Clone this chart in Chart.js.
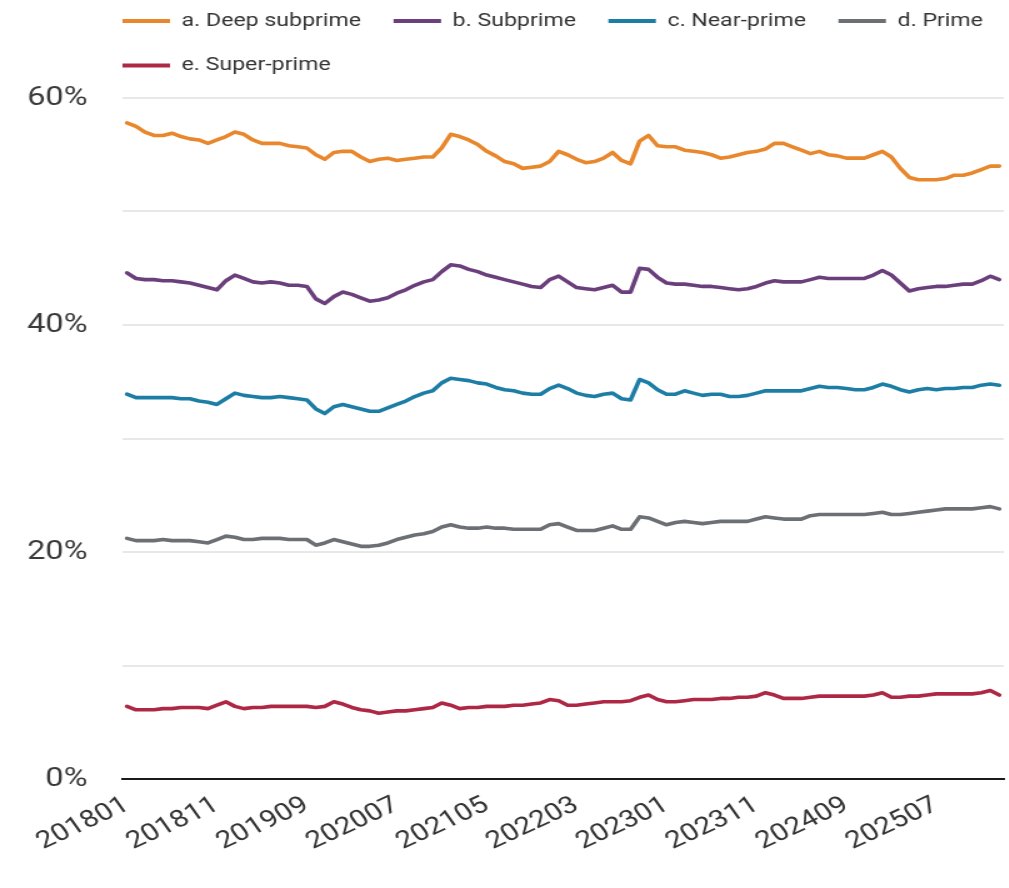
<!DOCTYPE html>
<html>
<head>
<meta charset="utf-8">
<script src="https://cdn.jsdelivr.net/npm/chart.js@4.4.1/dist/chart.umd.min.js"></script>
<style>
  html, body { margin: 0; padding: 0; background: #fff; overflow: hidden; }
  /* chart is laid out narrower and widened to the page width */
  #wrap { width: 807px; height: 888px; transform: scaleX(1.25); transform-origin: 0 0; }
</style>
</head>
<body>
<div id="wrap"><canvas id="tierChart" width="807" height="888"></canvas></div>
<script>
// monthly categories, 201801 .. 202602
const months = [];
for (let y = 2018; y <= 2026; y++) {
  for (let m = 1; m <= 12; m++) {
    if (y === 2026 && m > 2) break;
    months.push(String(y) + String(m).padStart(2, '0'));
  }
}

const tierNames = ['a. Deep subprime', 'b. Subprime', 'c. Near-prime', 'd. Prime', 'e. Super-prime'];
const tierColors = ['#E8872C', '#6B3F7C', '#1D7EA5', '#6C7075', '#AE2846'];

const deepSubprime = [
  57.8, 57.5, 57.0, 56.7, 56.7, 56.9, 56.6, 56.4, 56.3, 56.0,
  56.3, 56.6, 57.0, 56.8, 56.3, 56.0, 56.0, 56.0, 55.8, 55.7,
  55.6, 55.0, 54.6, 55.2, 55.3, 55.3, 54.8, 54.4, 54.6, 54.7,
  54.5, 54.6, 54.7, 54.8, 54.8, 55.6, 56.8, 56.6, 56.3, 55.9,
  55.3, 54.9, 54.4, 54.2, 53.8, 53.9, 54.0, 54.4, 55.3, 55.0,
  54.6, 54.3, 54.4, 54.7, 55.2, 54.5, 54.2, 56.2, 56.7, 55.8,
  55.7, 55.7, 55.4, 55.3, 55.2, 55.0, 54.7, 54.8, 55.0, 55.2,
  55.3, 55.5, 56.0, 56.0, 55.7, 55.4, 55.1, 55.3, 55.0, 54.9,
  54.7, 54.7, 54.7, 55.0, 55.3, 54.8, 53.8, 53.0, 52.8, 52.8,
  52.8, 52.9, 53.2, 53.2, 53.4, 53.7, 54.0, 54.0
];
const subprime = [
  44.6, 44.1, 44.0, 44.0, 43.9, 43.9, 43.8, 43.7, 43.5, 43.3,
  43.1, 43.9, 44.4, 44.1, 43.8, 43.7, 43.8, 43.7, 43.5, 43.5,
  43.4, 42.3, 41.9, 42.5, 42.9, 42.7, 42.4, 42.1, 42.2, 42.4,
  42.8, 43.1, 43.5, 43.8, 44.0, 44.7, 45.3, 45.2, 44.9, 44.7,
  44.4, 44.2, 44.0, 43.8, 43.6, 43.4, 43.3, 44.0, 44.3, 43.8,
  43.3, 43.2, 43.1, 43.3, 43.5, 42.9, 42.9, 45.0, 44.9, 44.2,
  43.7, 43.6, 43.6, 43.5, 43.4, 43.4, 43.3, 43.2, 43.1, 43.2,
  43.4, 43.7, 43.9, 43.8, 43.8, 43.8, 44.0, 44.2, 44.1, 44.1,
  44.1, 44.1, 44.1, 44.4, 44.8, 44.4, 43.7, 43.0, 43.2, 43.3,
  43.4, 43.4, 43.5, 43.6, 43.6, 43.9, 44.3, 44.0
];
const nearPrime = [
  33.9, 33.6, 33.6, 33.6, 33.6, 33.6, 33.5, 33.5, 33.3, 33.2,
  33.0, 33.5, 34.0, 33.8, 33.7, 33.6, 33.6, 33.7, 33.6, 33.5,
  33.4, 32.6, 32.2, 32.8, 33.0, 32.8, 32.6, 32.4, 32.4, 32.7,
  33.0, 33.3, 33.7, 34.0, 34.2, 34.9, 35.3, 35.2, 35.1, 34.9,
  34.8, 34.5, 34.3, 34.2, 34.0, 33.9, 33.9, 34.4, 34.7, 34.4,
  34.0, 33.8, 33.7, 33.9, 34.0, 33.5, 33.4, 35.2, 34.9, 34.3,
  33.9, 33.9, 34.2, 34.0, 33.8, 33.9, 33.9, 33.7, 33.7, 33.8,
  34.0, 34.2, 34.2, 34.2, 34.2, 34.2, 34.4, 34.6, 34.5, 34.5,
  34.4, 34.3, 34.3, 34.5, 34.8, 34.6, 34.3, 34.1, 34.3, 34.4,
  34.3, 34.4, 34.4, 34.5, 34.5, 34.7, 34.8, 34.7
];
const prime = [
  21.2, 21.0, 21.0, 21.0, 21.1, 21.0, 21.0, 21.0, 20.9, 20.8,
  21.1, 21.4, 21.3, 21.1, 21.1, 21.2, 21.2, 21.2, 21.1, 21.1,
  21.1, 20.6, 20.8, 21.1, 20.9, 20.7, 20.5, 20.5, 20.6, 20.8,
  21.1, 21.3, 21.5, 21.6, 21.8, 22.2, 22.4, 22.2, 22.1, 22.1,
  22.2, 22.1, 22.1, 22.0, 22.0, 22.0, 22.0, 22.4, 22.5, 22.2,
  21.9, 21.9, 21.9, 22.1, 22.3, 22.0, 22.0, 23.1, 23.0, 22.7,
  22.4, 22.6, 22.7, 22.6, 22.5, 22.6, 22.7, 22.7, 22.7, 22.7,
  22.9, 23.1, 23.0, 22.9, 22.9, 22.9, 23.2, 23.3, 23.3, 23.3,
  23.3, 23.3, 23.3, 23.4, 23.5, 23.3, 23.3, 23.4, 23.5, 23.6,
  23.7, 23.8, 23.8, 23.8, 23.8, 23.9, 24.0, 23.8
];
const superPrime = [
  6.4, 6.1, 6.1, 6.1, 6.2, 6.2, 6.3, 6.3, 6.3, 6.2,
  6.5, 6.8, 6.4, 6.2, 6.3, 6.3, 6.4, 6.4, 6.4, 6.4,
  6.4, 6.3, 6.4, 6.8, 6.6, 6.3, 6.1, 6.0, 5.8, 5.9,
  6.0, 6.0, 6.1, 6.2, 6.3, 6.7, 6.5, 6.2, 6.3, 6.3,
  6.4, 6.4, 6.4, 6.5, 6.5, 6.6, 6.7, 7.0, 6.9, 6.5,
  6.5, 6.6, 6.7, 6.8, 6.8, 6.8, 6.9, 7.2, 7.4, 7.0,
  6.8, 6.8, 6.9, 7.0, 7.0, 7.0, 7.1, 7.1, 7.2, 7.2,
  7.3, 7.6, 7.4, 7.1, 7.1, 7.1, 7.2, 7.3, 7.3, 7.3,
  7.3, 7.3, 7.3, 7.4, 7.6, 7.2, 7.2, 7.3, 7.3, 7.4,
  7.5, 7.5, 7.5, 7.5, 7.5, 7.6, 7.8, 7.4
];
const yTicks = [0, 20, 40, 60];

const LEGEND_FONT = 18.5;
const LEGEND_PAD = 26;
const LEGEND_ROW1_Y = 21;

// pull the legend so its rows start at the plot's left edge, near the top
const legendPlacement = {
  id: 'legendPlacement',
  afterLayout(chart) {
    const lg = chart.legend;
    const dx = chart.chartArea.left - LEGEND_PAD - lg.left;
    lg.left += dx;
    lg.right += dx;
    lg.top = LEGEND_ROW1_Y - LEGEND_PAD - LEGEND_FONT / 2;
  }
};

const seriesData = [deepSubprime, subprime, nearPrime, prime, superPrime];

Chart.defaults.font.family = 'Roboto';
Chart.defaults.color = '#333';

const chart = new Chart(document.getElementById('tierChart'), {
  type: 'line',
  data: {
    labels: months,
    datasets: seriesData.map((vals, i) => ({
      label: tierNames[i],
      data: vals,
      borderColor: tierColors[i],
      backgroundColor: tierColors[i],
      borderWidth: 3.6,
      pointRadius: 0,
      tension: 0,
      borderJoinStyle: 'round',
      borderCapStyle: 'round'
    }))
  },
  options: {
    responsive: false,
    animation: false,
    devicePixelRatio: 1,
    layout: { padding: { left: 20, right: 4, top: 2, bottom: 0 } },
    plugins: {
      tooltip: { enabled: false },
      legend: {
        position: 'top',
        align: 'start',
        maxHeight: 96,
        labels: {
          boxWidth: 38,
          boxHeight: 4,
          padding: LEGEND_PAD,
          color: '#333',
          font: { size: LEGEND_FONT },
          generateLabels(c) {
            return Chart.defaults.plugins.legend.labels.generateLabels(c)
              .map(item => Object.assign(item, { lineWidth: 0, fillStyle: item.strokeStyle }));
          }
        }
      }
    },
    scales: {
      x: {
        offset: true,
        grid: { display: false, drawTicks: false },
        border: { display: true, color: '#1a1a1a', width: 2 },
        ticks: {
          autoSkip: false,
          minRotation: 30,
          maxRotation: 30,
          padding: 12,
          color: '#333',
          font: { size: 24 },
          callback(v, i) { return i % 10 === 0 ? this.getLabelForValue(v) : ''; }
        },
        afterFit(s) {
          s.height = 109;
          // rotated labels would otherwise reserve room at the sides
          s.paddingLeft = 0;
          s.paddingRight = 0;
        }
      },
      y: {
        min: 0,
        max: 60,
        grid: { color: '#e8e8e8', lineWidth: 2, drawTicks: false },
        border: { display: false },
        ticks: {
          stepSize: 10,
          padding: 28,
          color: '#3a3a3a',
          font: { size: 26 },
          callback: v => yTicks.includes(v) ? v + '%' : ''
        },
        afterFit(s) { s.width = 78; }
      }
    }
  },
  plugins: [legendPlacement]
});
</script>
</body>
</html>
